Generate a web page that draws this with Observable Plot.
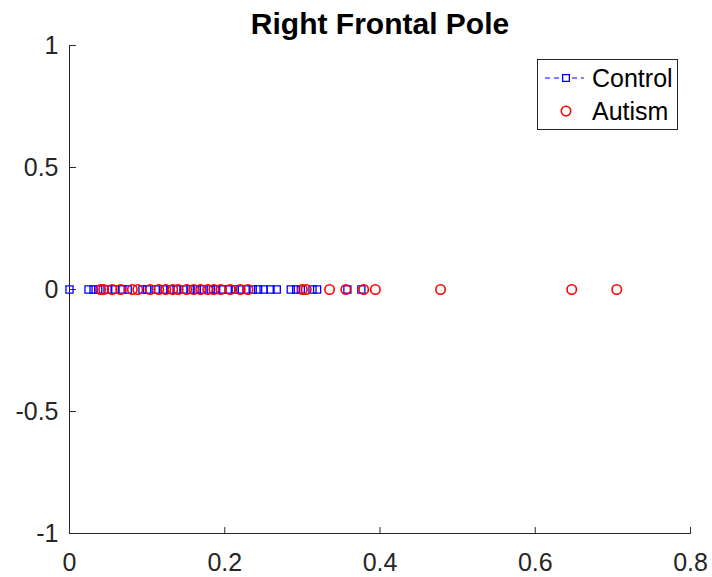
<!DOCTYPE html>
<html>
<head>
<meta charset="utf-8">
<script src="https://cdn.jsdelivr.net/npm/d3@7"></script>
<script src="https://cdn.jsdelivr.net/npm/@observablehq/plot@0.6"></script>
<style>
  html, body { margin: 0; padding: 0; background: #fff; }
  #chart { position: relative; width: 712px; height: 577px; }
  svg { font-family: "Liberation Sans", Arial, Helvetica, sans-serif; }
</style>
</head>
<body>
<div id="chart"></div>
<script>
const title = "Right Frontal Pole";
const seriesNames = ["Control", "Autism"];
const controlValues = [0.000, 0.0245, 0.031, 0.037, 0.049, 0.059, 0.068, 0.075, 0.094, 0.100,
  0.111, 0.121, 0.130, 0.138, 0.147, 0.156, 0.164, 0.171, 0.182, 0.189, 0.197, 0.205, 0.213,
  0.220, 0.228, 0.236, 0.243, 0.250, 0.259, 0.267, 0.285, 0.292, 0.298, 0.313, 0.319, 0.358, 0.376];
const autismValues = [0.040, 0.044, 0.055, 0.066, 0.081, 0.088, 0.104, 0.115, 0.124, 0.133,
  0.140, 0.151, 0.160, 0.169, 0.178, 0.186, 0.195, 0.207, 0.220, 0.230, 0.300, 0.305, 0.335,
  0.356, 0.379, 0.394, 0.478, 0.647, 0.705];
const xTicks = [0, 0.2, 0.4, 0.6, 0.8];
const yTicks = [-1, -0.5, 0, 0.5, 1];
const fmt = d => String(d);

const colors = {Control: "#0000ff", Autism: "#ff0000"};
const axisColor = "#262626";
const fontSize = 25;

const control = controlValues.map(v => ({x: v, y: 0}));
const autism = autismValues.map(v => ({x: v, y: 0}));

// straight tick shape for inward-pointing ticks
const tickShape = {draw(context, l) { context.moveTo(0, 0); context.lineTo(0, -l); }};

const plot = Plot.plot({
  width: 712,
  height: 577,
  marginLeft: 69,
  marginRight: 22,
  marginTop: 45,
  marginBottom: 44,
  style: {fontFamily: '"Liberation Sans", Arial, Helvetica, sans-serif', fontSize: fontSize + "px", color: axisColor, background: "#fff"},
  x: {domain: [0, 0.8]},
  y: {domain: [-1, 1]},
  marks: [
    Plot.axisX(xTicks, {tickSize: 0, tickPadding: 20, tickFormat: fmt, fontSize, fill: axisColor, label: null}),
    Plot.axisY(yTicks, {tickSize: 0, tickPadding: 11, tickFormat: fmt, fontSize, fill: axisColor, label: null}),
    Plot.vector(xTicks, {x: d => d, y: -1, length: 6, rotate: 0, anchor: "start", shape: tickShape, stroke: axisColor, strokeWidth: 1}),
    Plot.vector(yTicks, {x: 0, y: d => d, length: 6, rotate: 90, anchor: "start", shape: tickShape, stroke: axisColor, strokeWidth: 1}),
    Plot.ruleY([-1], {stroke: axisColor, strokeWidth: 1}),
    Plot.ruleX([0], {stroke: axisColor, strokeWidth: 1}),
    Plot.dot(control, {x: "x", y: "y", symbol: "square", r: 4, stroke: colors.Control, strokeWidth: 1.3, fill: "none"}),
    Plot.dot(autism, {x: "x", y: "y", symbol: "circle", r: 4.7, stroke: colors.Autism, strokeWidth: 1.6, fill: "none"}),
    Plot.text([title], {frameAnchor: "top", dy: -12, lineAnchor: "bottom", fontSize: 30, fontWeight: "bold", fill: "#000"})
  ]
});
document.getElementById("chart").appendChild(plot);

// Legend (MATLAB-style box, upper right)
const svg = d3.select(plot);
const lg = svg.append("g").attr("class", "legend").attr("text-anchor", "start");
lg.append("rect").attr("x", 537.5).attr("y", 59.5).attr("width", 140).attr("height", 70)
  .attr("fill", "#fff").attr("stroke", axisColor).attr("stroke-width", 1);
const rows = [{name: seriesNames[0], y: 78}, {name: seriesNames[1], y: 111}];
lg.append("line").attr("x1", 545).attr("x2", 584).attr("y1", rows[0].y).attr("y2", rows[0].y)
  .attr("stroke", colors.Control).attr("stroke-width", 1.1).attr("stroke-dasharray", "5,4");
lg.append("rect").attr("x", 566 - 3.4).attr("y", rows[0].y - 3.4).attr("width", 6.8).attr("height", 6.8)
  .attr("fill", "#fff").attr("stroke", colors.Control).attr("stroke-width", 1.3);
lg.append("circle").attr("cx", 566).attr("cy", rows[1].y).attr("r", 4.7)
  .attr("fill", "none").attr("stroke", colors.Autism).attr("stroke-width", 1.6);
rows.forEach(r => {
  lg.append("text").attr("x", 592).attr("y", r.y).attr("dy", "0.35em")
    .attr("text-anchor", "start")
    .attr("font-size", fontSize).attr("fill", "#000").text(r.name);
});
</script>
</body>
</html>
